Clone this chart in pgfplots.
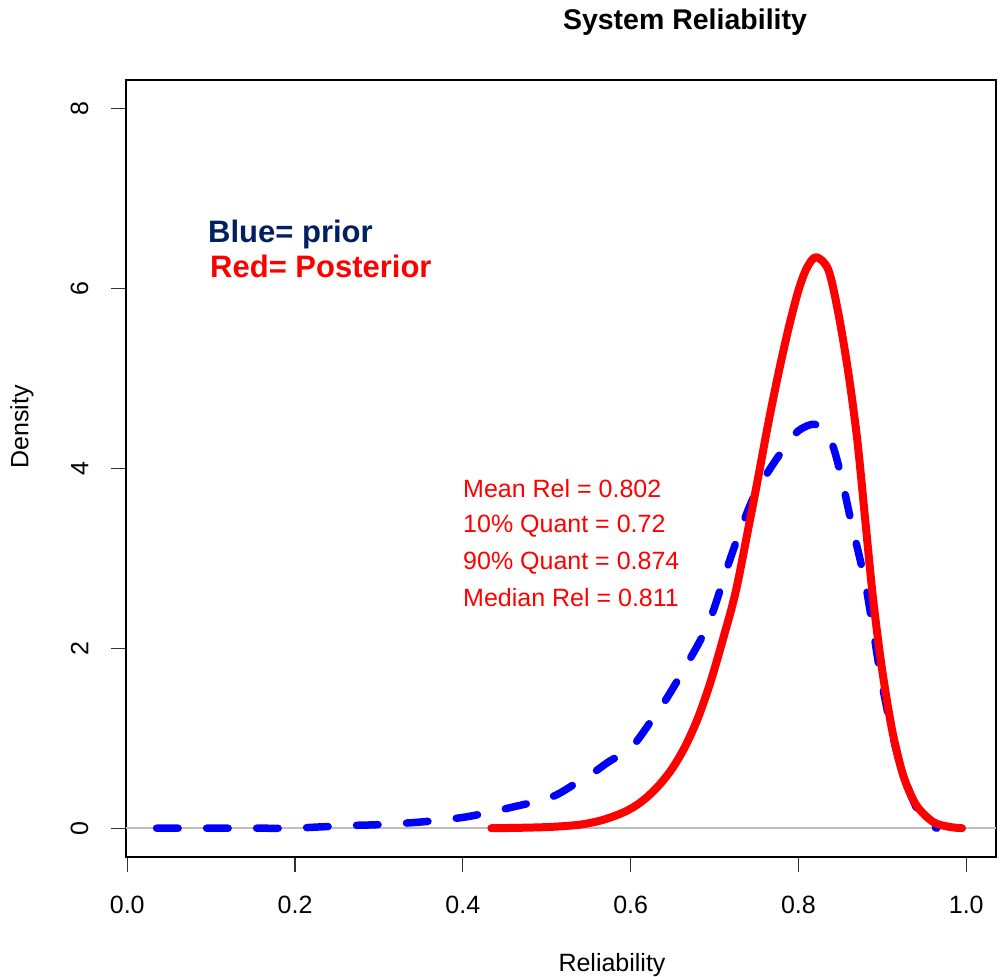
\documentclass[border=0pt]{standalone}
\usepackage{pgfplots}
\pgfplotsset{compat=1.18}
\usepackage{fontspec}
\setmainfont{Liberation Sans}
\definecolor{navytxt}{RGB}{0,32,96}
\definecolor{zeroline}{RGB}{190,190,190}

\begin{document}
\begin{tikzpicture}[x=1pt,y=1pt]
\path[use as bounding box] (0,0) rectangle (1004,977);
\begin{axis}[
    at={(126pt,120pt)}, anchor=south west,
    width=870pt, height=777pt, scale only axis,
    xmin=-0.0015, xmax=1.0355, ymin=-0.32, ymax=8.32,
    xtick={0,0.2,0.4,0.6,0.8,1.0},
    xticklabels={0.0,0.2,0.4,0.6,0.8,1.0},
    ytick={0,2,4,6,8},
    yticklabels={0,2,4,6,8},
    tick pos=left, tick align=outside,
    major tick length=15pt,
    tick style={line width=1.3pt, black!80},
    axis line style={line width=1.6pt},
    /pgf/number format/assume math mode=true,
    ticklabel style={font=\fontsize{25}{30}\selectfont},
    xticklabel style={yshift=-21pt},
    yticklabel style={rotate=90, anchor=south, yshift=19pt},
    clip=true,
]
\addplot[zeroline, line width=1.5pt, forget plot] coordinates {(-0.0015,0) (1.0355,0)};

% prior
\addplot[blue, line width=7.5pt, line cap=round, line join=round,
         dash pattern=on 21.5pt off 28.5pt, smooth, tension=0.5] coordinates {
  (0.035,0) (0.10,0) (0.15,0) (0.20,0.00) (0.22,0.01) (0.265,0.03) (0.30,0.04)
  (0.351,0.07) (0.404,0.126) (0.455,0.226) (0.506,0.348) (0.538,0.52)
  (0.556,0.62) (0.574,0.74) (0.601,0.90) (0.625,1.20) (0.642,1.43)
  (0.665,1.79) (0.693,2.28) (0.717,2.95) (0.735,3.42) (0.750,3.75)
  (0.765,3.98) (0.784,4.24) (0.800,4.42) (0.820,4.49) (0.838,4.32)
  (0.850,3.95) (0.863,3.40) (0.879,2.76) (0.889,2.21) (0.898,1.69)
  (0.910,1.13) (0.924,0.62) (0.942,0.20) (0.955,0.05) (0.965,0.0)
};

% posterior
\addplot[red, line width=8pt, line cap=round, line join=round,
         smooth, tension=0.5] coordinates {
  (0.434,0) (0.47,0.005) (0.506,0.015) (0.54,0.04) (0.566,0.09) (0.59,0.17)
  (0.606,0.25) (0.620,0.35) (0.635,0.49) (0.650,0.67) (0.665,0.91) (0.680,1.22)
  (0.695,1.62) (0.710,2.10) (0.725,2.62) (0.740,3.32) (0.752,3.90)
  (0.764,4.50) (0.776,5.05) (0.788,5.55) (0.800,5.98) (0.810,6.23)
  (0.821,6.35) (0.8356,6.21) (0.8475,5.73) (0.8594,5.07) (0.8701,4.32)
  (0.8796,3.43) (0.8891,2.54) (0.8998,1.76) (0.9117,1.09) (0.9248,0.59)
  (0.9402,0.26) (0.9605,0.07) (0.980,0.015) (0.995,0.0)
};
\end{axis}

% titles and labels
\node[font=\bfseries\fontsize{28.5}{32}\selectfont] at (685,955) {System Reliability};
\node[font=\fontsize{25}{30}\selectfont] at (612,12) {Reliability};
\node[font=\fontsize{25}{30}\selectfont, rotate=90] at (22,550) {Density};

% legend text
\node[font=\bfseries\fontsize{31}{34}\selectfont, text=navytxt, anchor=base west, inner sep=0pt] at (208,734) {Blue= prior};
\node[font=\bfseries\fontsize{31}{34}\selectfont, text=red, anchor=base west, inner sep=0pt] at (210,699) {Red= Posterior};

% summary text
\begin{scope}[every node/.style={font=\fontsize{25}{30}\selectfont, text=red, anchor=base west, inner sep=0pt}]
\node at (463,479) {Mean Rel = 0.802};
\node at (463,444) {10\% Quant = 0.72};
\node at (463,407) {90\% Quant = 0.874};
\node at (463,370) {Median Rel = 0.811};
\end{scope}
\end{tikzpicture}
\end{document}
